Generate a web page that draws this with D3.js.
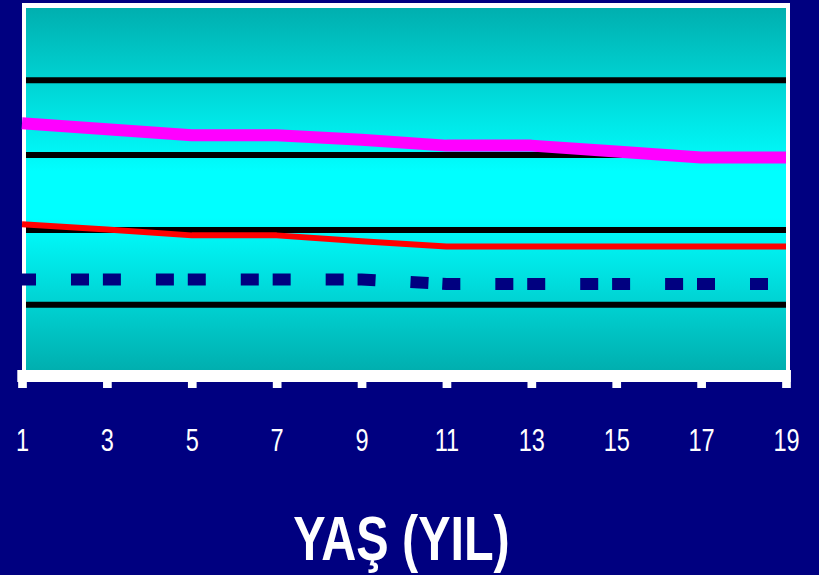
<!DOCTYPE html>
<html>
<head>
<meta charset="utf-8">
<script src="https://cdn.jsdelivr.net/npm/d3@7"></script>
<style>
  html, body { margin: 0; padding: 0; background: #000080; }
  svg { display: block; }
</style>
</head>
<body>
<svg id="chart" width="819" height="575"></svg>
<script>
// Age categories (years) shown on the horizontal axis
const ages = ["1", "3", "5", "7", "9", "11", "13", "15", "17", "19"];

// Series values per age
const upperSeries  = [3.42, 3.34, 3.26, 3.26, 3.20, 3.12, 3.12, 3.04, 2.96, 2.96];
const middleSeries = [2.07, 2.00, 1.92, 1.92, 1.84, 1.77, 1.77, 1.77, 1.77, 1.77];
const lowerSeries  = [1.33, 1.33, 1.33, 1.33, 1.33, 1.27, 1.27, 1.27, 1.27, 1.27];

// Horizontal gridline levels and value range of the plot
const gridValues = [1, 2, 3, 4];
const yDomain = [0.12, 4.96];

const xTitle = "YAŞ (YIL)";

const svg = d3.select("#chart");
const W = 819, H = 575;

const plot = { left: 26, right: 786, top: 8, bottom: 370 };

const x = d3.scalePoint().domain(ages).range([22, 786]);
const y = d3.scaleLinear().domain(yDomain).range([plot.bottom, plot.top]);

// page background
svg.append("rect").attr("width", W).attr("height", H).attr("fill", "#000080");

// vertical teal-cyan-teal fill of the plot area
const defs = svg.append("defs");
const grad = defs.append("linearGradient")
  .attr("id", "plotFill")
  .attr("gradientUnits", "userSpaceOnUse")
  .attr("x1", 0).attr("x2", 0)
  .attr("y1", plot.top).attr("y2", plot.bottom);
grad.append("stop").attr("offset", 0).attr("stop-color", "#00AFAF");
grad.append("stop").attr("offset", 0.45).attr("stop-color", "#00FFFF");
grad.append("stop").attr("offset", 0.58).attr("stop-color", "#00FFFF");
grad.append("stop").attr("offset", 1).attr("stop-color", "#00AFAF");

// the dashed series stops short of the last category, like its dash pattern
defs.append("clipPath").attr("id", "dashClip")
  .append("rect").attr("x", 0).attr("y", 0)
  .attr("width", x(ages[ages.length - 1]) - 5).attr("height", H);

svg.append("rect")
  .attr("x", plot.left).attr("y", plot.top)
  .attr("width", plot.right - plot.left).attr("height", plot.bottom - plot.top)
  .attr("fill", "url(#plotFill)");

// white frame: left, top, right
const frame = svg.append("g").attr("fill", "#FFFFFF");
frame.append("rect").attr("x", 22).attr("y", 3).attr("width", 4).attr("height", plot.bottom - 3);
frame.append("rect").attr("x", 22).attr("y", 3).attr("width", 768).attr("height", 5);
frame.append("rect").attr("x", 786).attr("y", 3).attr("width", 4).attr("height", plot.bottom - 3);

// horizontal gridlines
const grid = svg.append("g")
  .attr("transform", `translate(${plot.left},0)`)
  .call(d3.axisLeft(y).tickValues(gridValues).tickSize(-(plot.right - plot.left)).tickFormat(""));
grid.select(".domain").remove();
grid.selectAll(".tick line").attr("stroke", "#000000").attr("stroke-width", 6);

// x axis: thick white base line, square ticks, condensed labels
svg.append("rect")
  .attr("x", 17.3).attr("y", plot.bottom)
  .attr("width", 790.7 - 17.3).attr("height", 12)
  .attr("fill", "#FFFFFF");

const xAxis = svg.append("g")
  .attr("transform", `translate(0,${plot.bottom})`)
  .call(d3.axisBottom(x).tickSize(18).tickSizeOuter(0));
xAxis.select(".domain").remove();
xAxis.selectAll(".tick line")
  .attr("stroke", "#FFFFFF")
  .attr("stroke-width", 8.7);
xAxis.selectAll(".tick text")
  .attr("y", 80.7)
  .attr("dy", 0)
  .attr("fill", "#FFFFFF")
  .attr("font-family", "'Liberation Sans', Arial, sans-serif")
  .attr("font-size", 31)
  .attr("text-anchor", "middle")
  .attr("transform", "scale(0.76,1)");

// series lines
const line = d3.line()
  .x((d, i) => x(ages[i]))
  .y(d => y(d));

svg.append("path")
  .datum(lowerSeries)
  .attr("d", line)
  .attr("clip-path", "url(#dashClip)")
  .attr("fill", "none")
  .attr("stroke", "#000080")
  .attr("stroke-width", 12)
  .attr("stroke-linecap", "butt")
  .attr("stroke-dasharray", "18 35 18 13.89")
  .attr("stroke-dashoffset", 4);

svg.append("path")
  .datum(middleSeries)
  .attr("d", line)
  .attr("fill", "none")
  .attr("stroke", "#FF0000")
  .attr("stroke-width", 6)
  .attr("stroke-linejoin", "round");

svg.append("path")
  .datum(upperSeries)
  .attr("d", line)
  .attr("fill", "none")
  .attr("stroke", "#FF00FF")
  .attr("stroke-width", 12)
  .attr("stroke-linejoin", "round");

// axis title
svg.append("text")
  .attr("transform", "translate(401.5,560) scale(0.77,1)")
  .attr("text-anchor", "middle")
  .attr("fill", "#FFFFFF")
  .attr("font-family", "'Liberation Sans', Arial, sans-serif")
  .attr("font-weight", "bold")
  .attr("font-size", 63)
  .text(xTitle);
</script>
</body>
</html>
